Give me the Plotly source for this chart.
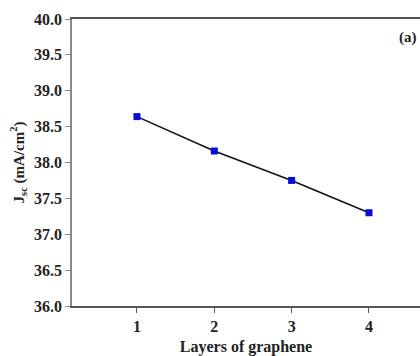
import plotly.graph_objects as go

layers = [1, 2, 3, 4]
jsc = [38.64, 38.16, 37.75, 37.30]
y_ticks = [36.0, 36.5, 37.0, 37.5, 38.0, 38.5, 39.0, 39.5, 40.0]
x_ticks = [1, 2, 3, 4]

FAM = "Liberation Serif"

fig = go.Figure()
fig.add_trace(go.Scatter(
    x=layers, y=jsc, mode="lines+markers",
    line=dict(color="#111", width=1.5),
    marker=dict(symbol="square", size=7, color="#0a0adc"),
    showlegend=False,
))

fig.update_layout(
    width=420, height=356,
    margin=dict(l=72, r=0, t=19, b=50),
    plot_bgcolor="white", paper_bgcolor="white",
    font=dict(family=FAM, size=16, color="#222"),
    xaxis=dict(
        range=[0.16, 4.66], tickvals=x_ticks,
        ticktext=["<b>%d</b>" % v for v in x_ticks],
        showline=True, linecolor="#555", linewidth=1.5, mirror=True,
        ticks="outside", ticklen=5, tickcolor="#555", showgrid=False, zeroline=False,
        tickfont=dict(family=FAM, size=16, color="#222"),
        title=dict(text="<b>Layers of graphene</b>", standoff=10,
                   font=dict(family=FAM, size=16, color="#222")),
    ),
    yaxis=dict(
        range=[36.0, 40.0], tickvals=y_ticks,
        ticktext=["<b>%.1f</b>" % v for v in y_ticks],
        showline=True, linecolor="#888", linewidth=1.5,
        ticks="outside", ticklen=5, tickcolor="#888", showgrid=False, zeroline=False,
        tickfont=dict(family=FAM, size=16, color="#222"),
        title=dict(text="<b>J<sub>sc</sub> (mA/cm<sup>2</sup>)</b>", standoff=6,
                   font=dict(family=FAM, size=15, color="#222")),
    ),
)
fig.add_annotation(text="<b>(a)</b>", xref="paper", yref="paper", x=0.997, y=0.935,
                   xanchor="right", yanchor="middle", showarrow=False,
                   font=dict(family=FAM, size=15, color="#222"))

fig.write_html("out.html")
